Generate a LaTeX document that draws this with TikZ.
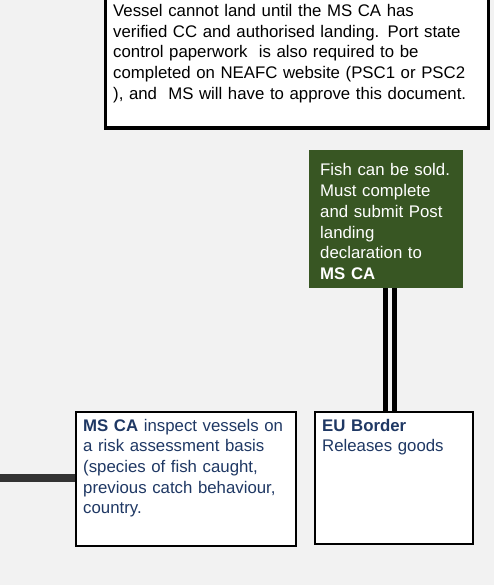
\documentclass[tikz,border=0pt]{standalone}
\usepackage{fontspec}
\setmainfont{Liberation Sans}
\definecolor{bg}{HTML}{F2F2F2}
\definecolor{leaf}{HTML}{385623}
\definecolor{navy}{HTML}{1F3864}
\definecolor{linkgray}{HTML}{333333}
\begin{document}
\begin{tikzpicture}[x=1pt,y=-1pt,
  boxframe/.style={draw=black, fill=white, line width=2.5pt, inner sep=0pt, anchor=north west},
  bodytext/.style={anchor=base west, inner sep=0pt, align=left, text width=400pt,
    font=\fontsize{16.8}{20.7}\selectfont},
  link/.style={line width=7.7pt, draw=linkgray},
  twin/.style={draw=black, line width=4.5pt, double=bg, double distance=4.6pt}]
\fill[bg] (0,0) rectangle (494,585);
\useasboundingbox (0,0) rectangle (494,585);
% top box
\node[boxframe, line width=3.3pt, minimum width=383pt, minimum height=140pt] (topbox) at (103.5,-13.5) {};
\node[bodytext] (toptext) at (113,16.5) {Vessel cannot land until the MS CA has\\verified CC and authorised landing. Port state\\control paperwork\ \ is also required to be\\completed on NEAFC website (PSC1 or PSC2\\), and\ \ MS will have to approve this document.};
% green box
\node[fill=leaf, inner sep=0pt, anchor=north west, minimum width=154pt, minimum height=138pt] (green) at (309,150) {};
\node[bodytext, text=white] (greentext) at (320,176) {Fish can be sold.\\Must complete\\and submit Post\\landing\\declaration to\\\textbf{MS CA}};
% MS CA box
\node[boxframe, minimum width=220pt, minimum height=134pt] (msca) at (74.5,410.5) {};
\node[bodytext, text=navy] (mscatext) at (83,431) {\textbf{MS CA} inspect vessels on\\a risk assessment basis\\(species of fish caught,\\previous catch behaviour,\\country.};
% EU border box
\node[boxframe, minimum width=158pt, minimum height=132pt] (eu) at (313.5,410.5) {};
\node[bodytext, text=navy] (eutext) at (322,431) {\textbf{EU Border}\\Releases goods};
% connectors
\coordinate (leftend) at (0,478);
\draw[link] (leftend) -- (leftend -| msca.west);
\draw[twin] ([xshift=3.7pt]green.south) -- ([xshift=3.7pt]green.south |- eu.north);
\end{tikzpicture}
\end{document}
